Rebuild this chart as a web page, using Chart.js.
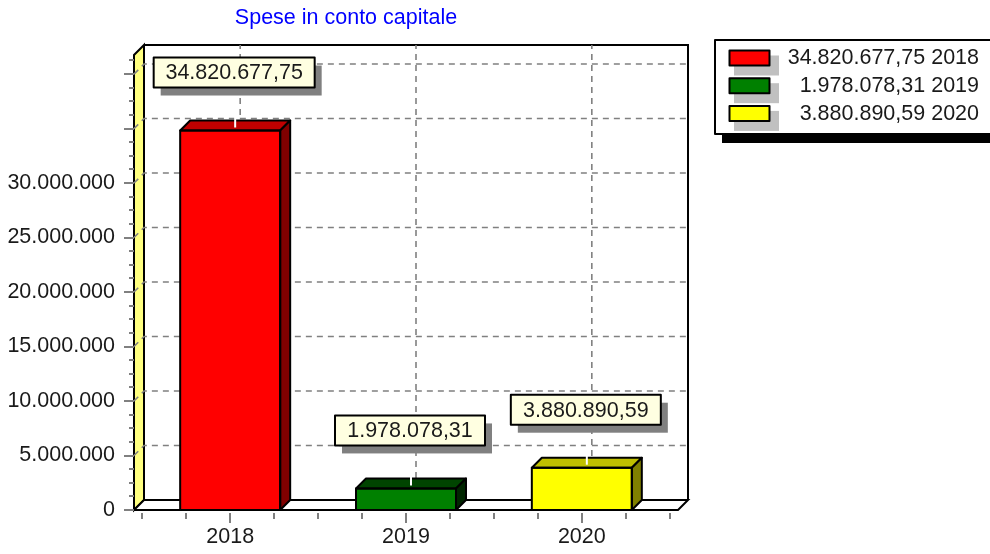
<!DOCTYPE html>
<html>
<head>
<meta charset="utf-8">
<script src="https://cdn.jsdelivr.net/npm/chart.js@4"></script>
<style>
  html, body { margin: 0; padding: 0; background: #fff; }
  canvas { display: block; }
</style>
</head>
<body>
<canvas id="graficoSpese" width="990" height="554"></canvas>
<script>
// Dati
const titolo = "Spese in conto capitale";
const anni = ["2018", "2019", "2020"];
const valori = [34820677.75, 1978078.31, 3880890.59];
const coloriFronte = ["#FF0000", "#008000", "#FFFF00"];
const coloriSopra = ["#C00000", "#004400", "#C0C000"];
const coloriLato = ["#800000", "#002600", "#808000"];
const tickY = [0, 5000000, 10000000, 15000000, 20000000, 25000000, 30000000];

const FONT = "'Liberation Sans', Arial, sans-serif";
const PROF = 10; // profondità 3D

function formatta(v, dec) {
    const parti = v.toFixed(dec).split('.');
    parti[0] = parti[0].replace(/\B(?=(\d{3})+(?!\d))/g, '.');
    return parti.join(',');
}

function tratteggio(ctx, punti) {
    ctx.beginPath();
    ctx.moveTo(punti[0][0], punti[0][1]);
    punti.slice(1).forEach(p => ctx.lineTo(p[0], p[1]));
    ctx.stroke();
}

function poligono(ctx, punti, fill) {
    ctx.beginPath();
    ctx.moveTo(punti[0][0], punti[0][1]);
    punti.slice(1).forEach(p => ctx.lineTo(p[0], p[1]));
    ctx.closePath();
    ctx.fillStyle = fill;
    ctx.fill();
    ctx.stroke();
}

// Pareti, griglia e tacche disegnate prima delle barre
const pareti = {
    id: 'pareti',
    beforeDraw(chart) {
        const ctx = chart.ctx;
        ctx.save();
        ctx.fillStyle = '#fff';
        ctx.fillRect(0, 0, chart.width, chart.height);
        ctx.restore();
    },
    beforeDatasetsDraw(chart) {
        const { ctx, chartArea: a } = chart;
        const xs = chart.scales.x, ys = chart.scales.y;
        const D = PROF;
        ctx.save();
        ctx.lineWidth = 2;
        ctx.strokeStyle = '#000';

        // parete di fondo
        ctx.fillStyle = '#fff';
        ctx.fillRect(a.left + D, a.top - D, a.right - a.left, a.bottom - a.top);
        ctx.beginPath();
        ctx.moveTo(a.left + D, a.top - D);
        ctx.lineTo(a.right + D, a.top - D);
        ctx.lineTo(a.right + D, a.bottom - D);
        ctx.stroke();

        // parete sinistra
        poligono(ctx, [[a.left, a.bottom], [a.left + D, a.bottom - D], [a.left + D, a.top - D], [a.left, a.top]], '#FFFF80');

        // pavimento
        poligono(ctx, [[a.left, a.bottom], [a.left + D, a.bottom - D], [a.right + D, a.bottom - D], [a.right, a.bottom]], '#fff');

        // griglia tratteggiata
        ctx.strokeStyle = '#808080';
        ctx.lineWidth = 1.6;
        ctx.setLineDash([6, 5]);
        for (let v = 5000000; v <= ys.max; v += 5000000) {
            const y = ys.getPixelForValue(v);
            tratteggio(ctx, [[a.left, y], [a.left + D, y - D], [a.right + D, y - D]]);
        }
        anni.forEach((_, i) => {
            const x = xs.getPixelForValue(i);
            tratteggio(ctx, [[x + D, a.bottom - D], [x + D, a.top - D]]);
        });
        ctx.setLineDash([]);

        // tacche asse y
        ctx.lineWidth = 2;
        for (let v = 0; v <= ys.max; v += 1250000) {
            const y = Math.round(ys.getPixelForValue(v));
            const lung = (v % 5000000 === 0) ? 10 : 5;
            tratteggio(ctx, [[a.left - lung, y], [a.left, y]]);
        }
        // tacche asse x
        for (let t = -0.5; t <= 2.5; t += 0.25) {
            const x = Math.round(xs.getPixelForValue(t));
            const lung = Number.isInteger(t) ? 10 : 6;
            tratteggio(ctx, [[x, a.bottom + 3], [x, a.bottom + 3 + lung]]);
        }
        ctx.restore();
    },
    afterDatasetsDraw(chart) {
        const { ctx } = chart;
        const D = PROF;
        const meta = chart.getDatasetMeta(0);
        ctx.save();
        ctx.lineWidth = 2;
        ctx.strokeStyle = '#000';
        ctx.lineJoin = 'round';

        // facce 3D delle barre
        meta.data.forEach((bar, i) => {
            const { x, y, base, width } = bar.getProps(['x', 'y', 'base', 'width'], true);
            const x0 = x - width / 2, x1 = x + width / 2;
            poligono(ctx, [[x0, y], [x0 + D, y - D], [x1 + D, y - D], [x1, y]], coloriSopra[i]);
            poligono(ctx, [[x1, y], [x1 + D, y - D], [x1 + D, base - D], [x1, base]], coloriLato[i]);
            ctx.strokeRect(x0, y, width, base - y);
        });

        // etichette dei valori
        ctx.font = '21.5px ' + FONT;
        ctx.textAlign = 'center';
        ctx.textBaseline = 'middle';
        meta.data.forEach((bar, i) => {
            const { x, y } = bar.getProps(['x', 'y'], true);
            const testo = formatta(valori[i], 2);
            const w = Math.round(ctx.measureText(testo).width) + 24;
            const h = 30;
            const cx = x + 4;
            const by = y - D - 33 - h;
            const bx = cx - w / 2;
            // connettore bianco
            ctx.strokeStyle = '#fff';
            ctx.lineWidth = 2;
            tratteggio(ctx, [[x + 5, y - 3], [x + 5, by + h]]);
            // ombra
            ctx.fillStyle = '#808080';
            ctx.fillRect(bx + 7, by + 8, w, h);
            ctx.fillStyle = '#FFFFE1';
            ctx.fillRect(bx, by, w, h);
            ctx.strokeStyle = '#000';
            ctx.strokeRect(bx, by, w, h);
            ctx.fillStyle = '#1a1a1a';
            ctx.fillText(testo, cx, by + h / 2 + 1);
        });

        // titolo
        ctx.fillStyle = '#0000FF';
        ctx.font = '21.5px ' + FONT;
        ctx.fillText(titolo, 346, 18);

        // legenda
        ctx.fillStyle = '#000';
        ctx.fillRect(722, 47, 300, 96);
        ctx.fillStyle = '#fff';
        ctx.fillRect(715, 40, 300, 94);
        ctx.strokeRect(715, 40, 300, 94);
        ctx.font = '21.5px ' + FONT;
        ctx.textAlign = 'right';
        anni.forEach((anno, i) => {
            const sy = 50.5 + i * 27.7;
            ctx.fillStyle = '#C0C0C0';
            ctx.fillRect(734, sy + 5, 45, 20);
            ctx.fillStyle = coloriFronte[i];
            ctx.fillRect(729.5, sy, 40, 15);
            ctx.strokeRect(729.5, sy, 40, 15);
            ctx.fillStyle = '#1a1a1a';
            ctx.fillText(formatta(valori[i], 2) + ' ' + anno, 979, sy + 8);
        });
        ctx.restore();
    }
};

new Chart(document.getElementById('graficoSpese'), {
    type: 'bar',
    data: {
        datasets: [{
            data: valori.map((v, i) => ({ x: i, y: v })),
            backgroundColor: coloriFronte,
            borderColor: '#000',
            borderWidth: 0,
            barThickness: 100
        }]
    },
    options: {
        responsive: false,
        devicePixelRatio: 1,
        animation: false,
        layout: { padding: { left: 0, right: 312, top: 55, bottom: 0 } },
        plugins: {
            legend: { display: false },
            tooltip: { enabled: false },
            title: { display: false }
        },
        scales: {
            x: {
                type: 'linear',
                min: -0.547,
                max: 2.547,
                offset: false,
                grid: { display: false, drawTicks: false },
                border: { display: false },
                afterFit: s => { s.height = 44; },
                afterBuildTicks: s => { s.ticks = anni.map((_, i) => ({ value: i })); },
                ticks: {
                    padding: 14,
                    maxRotation: 0,
                    autoSkip: false,
                    color: '#1a1a1a',
                    font: { family: FONT, size: 21.5 },
                    callback: (v, i) => anni[i]
                }
            },
            y: {
                min: 0,
                max: 41750000,
                grid: { display: false, drawTicks: false },
                border: { display: false },
                afterFit: s => { s.width = 134; },
                afterBuildTicks: s => { s.ticks = tickY.map(v => ({ value: v })); },
                ticks: {
                    padding: 19,
                    autoSkip: false,
                    color: '#1a1a1a',
                    font: { family: FONT, size: 21.5 },
                    callback: v => formatta(v, 0)
                }
            }
        }
    },
    plugins: [pareti]
});
</script>
</body>
</html>
